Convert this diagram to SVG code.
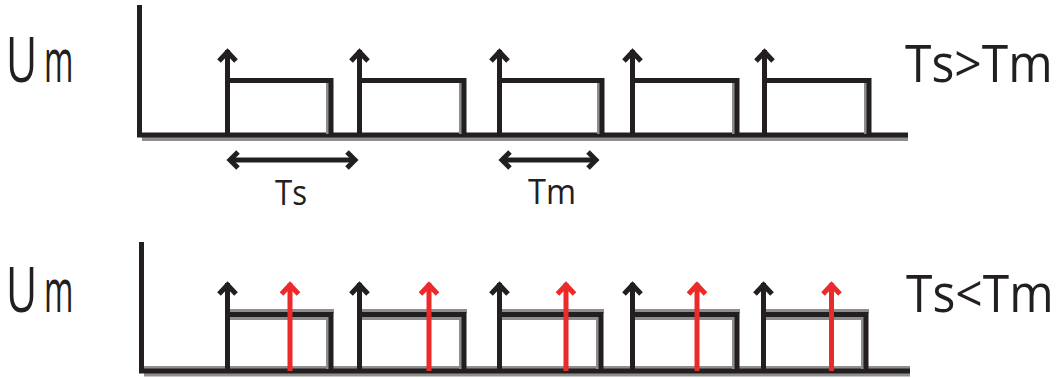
<svg xmlns="http://www.w3.org/2000/svg" width="1064" height="378" viewBox="0 0 1064 378">
<defs>
<style>
.k{stroke:#231f20;fill:none;stroke-width:5;stroke-linejoin:miter;stroke-linecap:butt}
.g{stroke:#8e8e90;fill:none;stroke-width:4}
.r{stroke:#ed2a2a;fill:none;stroke-width:5;stroke-linejoin:miter}
.t{font-family:"Open Sans","Liberation Sans",sans-serif;fill:#231f20}
</style>
</defs>
<rect width="1064" height="378" fill="#ffffff"/>
<g id="top-panel">
  <g id="top-axes">
    <line class="g" x1="142" y1="139" x2="908" y2="139"/>
    <line class="k" x1="139.5" y1="5" x2="139.5" y2="137"/>
    <line class="k" x1="137" y1="135" x2="908" y2="135"/>
  </g>
  <g id="top-pulses">
    <line class="g" x1="328" y1="83" x2="328" y2="134"/>
    <line class="g" x1="461" y1="83" x2="461" y2="134"/>
    <line class="g" x1="599" y1="83" x2="599" y2="134"/>
    <line class="g" x1="734" y1="83" x2="734" y2="134"/>
    <line class="g" x1="866" y1="83" x2="866" y2="134"/>
    <path class="k" d="M227.5 135 V50 M227.5 80.5 H331 V135"/>
    <path class="k" d="M359.5 135 V50 M359.5 80.5 H464 V135"/>
    <path class="k" d="M499.5 135 V50 M499.5 80.5 H602 V135"/>
    <path class="k" d="M632.5 135 V50 M632.5 80.5 H737 V135"/>
    <path class="k" d="M764.5 135 V50 M764.5 80.5 H869 V135"/>
    <polyline class="k" points="219,61 227.5,52 236,61"/>
    <polyline class="k" points="351,61 359.5,52 368,61"/>
    <polyline class="k" points="491,61 499.5,52 508,61"/>
    <polyline class="k" points="624,61 632.5,52 641,61"/>
    <polyline class="k" points="756,61 764.5,52 773,61"/>
  </g>
  <g id="ts-span">
    <line class="k" x1="230" y1="160" x2="355" y2="160" stroke-width="4"/>
    <polyline class="k" points="238,152 230,160 238,168"/>
    <polyline class="k" points="347,152 355,160 347,168"/>
    <text class="t" x="275" y="205" font-size="35" textLength="32" lengthAdjust="spacingAndGlyphs">Ts</text>
  </g>
  <g id="tm-span">
    <line class="k" x1="502" y1="160" x2="596" y2="160" stroke-width="4"/>
    <polyline class="k" points="510,152 502,160 510,168"/>
    <polyline class="k" points="588,152 596,160 588,168"/>
    <text class="t" x="528" y="204" font-size="35" textLength="48" lengthAdjust="spacingAndGlyphs">Tm</text>
  </g>
  <g id="um-top">
    <text class="t" transform="translate(6,82) scale(0.68,1)" x="0" y="0" font-size="63">U</text>
    <text class="t" transform="translate(44,82) scale(0.53,1)" x="0" y="0" font-size="60">m</text>
  </g>
  <text id="cond-top" class="t" transform="translate(905,82) scale(1,1.08)" x="0" y="0" font-size="48">Ts&gt;Tm</text>
</g>
<g id="bottom-panel">
  <g id="bottom-axes">
    <line class="g" x1="144" y1="374.5" x2="910" y2="374.5"/>
    <line class="g" x1="144" y1="368" x2="910" y2="368"/>
    <line class="k" x1="141.5" y1="242" x2="141.5" y2="373"/>
    <line class="k" x1="139" y1="371" x2="910" y2="371"/>
  </g>
  <g id="bottom-pulses">
    <path class="g" d="M229 311 H334 M229 318 H328 V369"/>
    <path class="g" d="M362 311 H467 M362 318 H461 V369"/>
    <path class="g" d="M502 311 H604 M502 318 H598 V369"/>
    <path class="g" d="M635 311 H740 M635 318 H734 V369"/>
    <path class="g" d="M766 311 H869 M766 318 H863 V369"/>
    <path class="k" d="M227.5 371 V283 M227.5 314.5 H331 V371" stroke-width="4.5"/>
    <path class="k" d="M359.5 371 V283 M359.5 314.5 H464 V371" stroke-width="4.5"/>
    <path class="k" d="M499.5 371 V283 M499.5 314.5 H601 V371" stroke-width="4.5"/>
    <path class="k" d="M632.5 371 V283 M632.5 314.5 H737 V371" stroke-width="4.5"/>
    <path class="k" d="M763.5 371 V283 M763.5 314.5 H866 V371" stroke-width="4.5"/>
    <polyline class="k" points="219,294 227.5,285 236,294"/>
    <polyline class="k" points="351,294 359.5,285 368,294"/>
    <polyline class="k" points="491,294 499.5,285 508,294"/>
    <polyline class="k" points="624,294 632.5,285 641,294"/>
    <polyline class="k" points="755,294 763.5,285 772,294"/>
  </g>
  <g id="red-impulses">
    <path class="r" d="M290 371 V283 M281.5 294 L290 285 L298.5 294"/>
    <path class="r" d="M429 371 V283 M420.5 294 L429 285 L437.5 294"/>
    <path class="r" d="M566 371 V283 M557.5 294 L566 285 L574.5 294"/>
    <path class="r" d="M697 371 V283 M688.5 294 L697 285 L705.5 294"/>
    <path class="r" d="M831.5 371 V283 M823 294 L831.5 285 L840 294"/>
  </g>
  <g id="um-bottom">
    <text class="t" transform="translate(6,312) scale(0.68,1)" x="0" y="0" font-size="63">U</text>
    <text class="t" transform="translate(44,312) scale(0.53,1)" x="0" y="0" font-size="60">m</text>
  </g>
  <text id="cond-bottom" class="t" transform="translate(906,312) scale(1,1.08)" x="0" y="0" font-size="48">Ts&lt;Tm</text>
</g>
</svg>
